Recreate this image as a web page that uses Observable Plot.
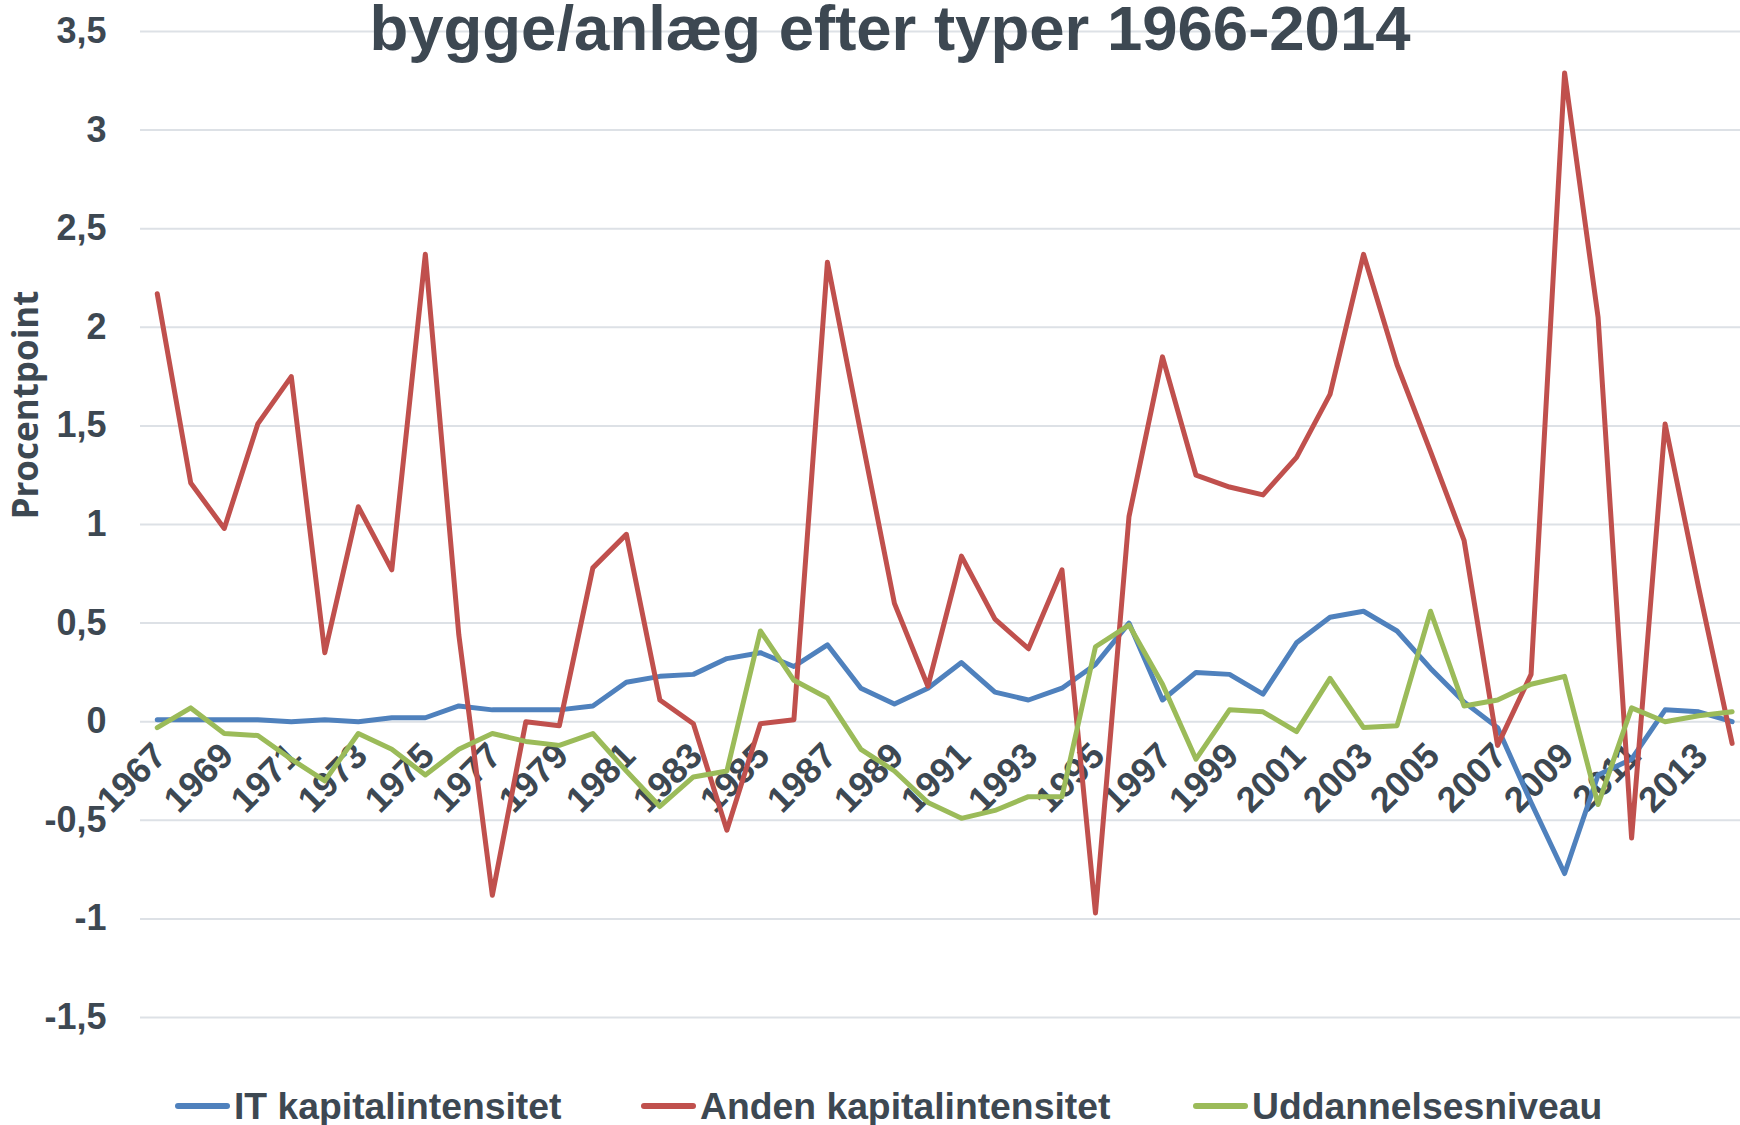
<!DOCTYPE html>
<html>
<head>
<meta charset="utf-8">
<script src="https://cdn.jsdelivr.net/npm/d3@7"></script>
<script src="https://cdn.jsdelivr.net/npm/@observablehq/plot@0.6"></script>
<style>
  html, body { margin: 0; padding: 0; background: #fff; }
  body { width: 1740px; height: 1125px; position: relative; overflow: hidden;
         font-family: "Liberation Sans", Arial, sans-serif; color: #3d4852; }
  #chart { position: absolute; left: 0; top: 0; }
  #title { position: absolute; left: 0; top: 0; width: 1780px; text-align: center;
           font-size: 63.5px; line-height: 56px; font-weight: bold; white-space: nowrap; }
  #ylabel { position: absolute; left: -125px; top: 383px; width: 300px; height: 44px;
            line-height: 44px; text-align: center; font-family: "Open Sans", sans-serif;
            font-weight: bold; font-size: 35px; transform: rotate(-90deg); white-space: nowrap; }
  .leg { position: absolute; top: 1088px; height: 36px; display: flex; align-items: center;
         font-size: 37.3px; line-height: 36px; font-weight: bold; white-space: nowrap; }
  .sw { width: 55px; height: 5.5px; border-radius: 3px; margin-right: 4px; }
</style>
</head>
<body>
<div id="chart"></div>
<div id="title">bygge/anlæg efter typer 1966-2014</div>
<div id="ylabel">Procentpoint</div>
<div id="legend"></div>
<script>
// ---- data ----
const years = [1967,1968,1969,1970,1971,1972,1973,1974,1975,1976,
               1977,1978,1979,1980,1981,1982,1983,1984,1985,1986,
               1987,1988,1989,1990,1991,1992,1993,1994,1995,1996,
               1997,1998,1999,2000,2001,2002,2003,2004,2005,2006,
               2007,2008,2009,2010,2011,2012,2013,2014];

const itKapital = [0.01,0.01,0.01,0.01,0.00,0.01,0.00,0.02,0.02,0.08,
                   0.06,0.06,0.06,0.08,0.20,0.23,0.24,0.32,0.35,0.28,
                   0.39,0.17,0.09,0.17,0.30,0.15,0.11,0.17,0.29,0.50,
                   0.11,0.25,0.24,0.14,0.40,0.53,0.56,0.46,0.27,0.10,
                   -0.03,-0.41,-0.77,-0.27,-0.19,0.06,0.05,0.00];

const andenKapital = [2.17,1.21,0.98,1.51,1.75,0.35,1.09,0.77,2.37,0.44,
                      -0.88,0.00,-0.02,0.78,0.95,0.11,-0.01,-0.55,-0.01,0.01,
                      2.33,1.46,0.60,0.18,0.84,0.52,0.37,0.77,-0.97,1.04,
                      1.85,1.25,1.19,1.15,1.34,1.66,2.37,1.81,1.37,0.92,
                      -0.12,0.24,3.29,2.05,-0.59,1.51,0.68,-0.11];

const uddannelse = [-0.03,0.07,-0.06,-0.07,-0.19,-0.30,-0.06,-0.14,-0.27,-0.14,
                    -0.06,-0.10,-0.12,-0.06,-0.25,-0.43,-0.28,-0.25,0.46,0.21,
                    0.12,-0.14,-0.25,-0.41,-0.49,-0.45,-0.38,-0.38,0.38,0.49,
                    0.19,-0.19,0.06,0.05,-0.05,0.22,-0.03,-0.02,0.56,0.08,
                    0.11,0.19,0.23,-0.42,0.07,0.00,0.03,0.05];

const seriesNames = ["IT kapitalintensitet", "Anden kapitalintensitet", "Uddannelsesniveau"];
const seriesColors = ["#4f81bd", "#c0504d", "#9bbb59"];
const yTicks = [-1.5,-1,-0.5,0,0.5,1,1.5,2,2.5,3,3.5];
const xTickYears = [1967,1969,1971,1973,1975,1977,1979,1981,1983,1985,1987,1989,
                    1991,1993,1995,1997,1999,2001,2003,2005,2007,2009,2011,2013];
const xAxisAt = 0;

// ---- build table ----
const seriesValues = [itKapital, andenKapital, uddannelse];
const rows = [];
seriesNames.forEach((name, s) => {
  years.forEach((yr, i) => rows.push({series: name, year: yr, value: seriesValues[s][i]}));
});

const textColor = "#3d4852";
const fmt = d => String(d).replace(".", ",");

const chart = Plot.plot({
  width: 1740,
  height: 1070,
  marginLeft: 140,
  marginRight: 0,
  marginTop: 31,
  marginBottom: 53,
  style: {fontFamily: "Liberation Sans, Arial, sans-serif", background: "transparent", overflow: "visible", fontWeight: "bold"},
  x: {domain: [1966.5, 2014.25], axis: null},
  y: {domain: [-1.5, 3.5], axis: null},
  color: {domain: seriesNames, range: seriesColors},
  marks: [
    Plot.gridY(yTicks, {stroke: "#dde1e6", strokeOpacity: 1, strokeWidth: 2}),
    Plot.axisY(yTicks, {tickSize: 0, tickPadding: 34, tickFormat: fmt, fontSize: 36,
                        fontWeight: "bold", fill: textColor, label: null}),
    Plot.text(xTickYears, {x: d => d, y: () => xAxisAt, text: d => String(d), rotate: -45,
                           textAnchor: "end", fontSize: 36, fontWeight: "bold", fill: textColor,
                           dx: 3, dy: 28}),
    Plot.line(rows, {x: "year", y: "value", z: "series", stroke: "series",
                     strokeWidth: 5, strokeLinejoin: "round", strokeLinecap: "round"})
  ]
});
document.getElementById("chart").appendChild(chart);

// ---- legend ----
const legendLeft = [175, 641, 1193];
const legend = document.getElementById("legend");
seriesNames.forEach((name, i) => {
  const item = document.createElement("div");
  item.className = "leg";
  item.style.left = legendLeft[i] + "px";
  const sw = document.createElement("div");
  sw.className = "sw";
  sw.style.background = seriesColors[i];
  const t = document.createElement("span");
  t.textContent = name;
  item.appendChild(sw);
  item.appendChild(t);
  legend.appendChild(item);
});
</script>
</body>
</html>
